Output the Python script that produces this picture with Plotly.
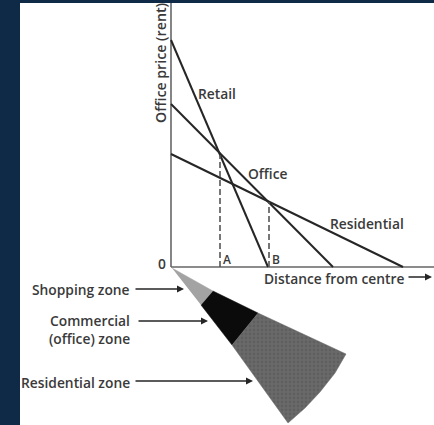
import plotly.graph_objects as go

# Rent curves: distance from centre vs office price (rent), in chart units
retail_x = [0, 97]
retail_y = [227, 0]
office_x = [0, 162]
office_y = [163, 0]
residential_x = [0, 232]
residential_y = [113, 0]
# Dashed drop lines at boundaries A and B
drop_a_x = [49, 49]
drop_a_y = [0, 112]
drop_b_x = [98, 98]
drop_b_y = [0, 65]
# Axis lines
axis_v_x = [0, 0]
axis_v_y = [0, 264]
axis_h_x = [0, 263]
axis_h_y = [0, 0]
# Zone wedge outlines below the axis
shopping_x = [1, 42, 30]
shopping_y = [-1, -24, -38]
commercial_x = [42, 87, 61, 30]
commercial_y = [-24, -46, -78, -38]
residential_zone_x = [87, 175, 164, 149, 134, 117, 61]
residential_zone_y = [-46, -87, -106, -125, -141, -156, -78]

labels = ["Retail", "Office", "Residential", "A", "B", "0"]

NAVY = "#0f2a47"
INK = "#262626"
TEXT = "#3a3a3a"
FONT = "Open Sans"
SIZE = 13.8

fig = go.Figure()


def zone(x, y, color, **kw):
    fig.add_trace(go.Scatter(x=x, y=y, mode="lines", fill="toself", fillcolor=color,
                             line=dict(color=color, width=0.5), hoverinfo="skip", **kw))


zone(shopping_x, shopping_y, "#a3a3a3")
zone(commercial_x, commercial_y, "#0b0b0b")
zone(residential_zone_x, residential_zone_y, "#666666",
     fillpattern=dict(shape=".", bgcolor="#6a6a6a", fgcolor="#545454", size=4, solidity=0.4))

for x, y in [(axis_v_x, axis_v_y), (axis_h_x, axis_h_y)]:
    fig.add_trace(go.Scatter(x=x, y=y, mode="lines", line=dict(color="#666666", width=1.6), hoverinfo="skip"))
for x, y in [(retail_x, retail_y), (office_x, office_y), (residential_x, residential_y)]:
    fig.add_trace(go.Scatter(x=x, y=y, mode="lines", line=dict(color=INK, width=2), hoverinfo="skip"))
for x, y in [(drop_a_x, drop_a_y), (drop_b_x, drop_b_y)]:
    fig.add_trace(go.Scatter(x=x, y=y, mode="lines", line=dict(color="#555555", width=1.6, dash="6px,3px"), hoverinfo="skip"))


def note(x, y, text, anchor="center", size=SIZE, **kw):
    fig.add_annotation(x=x, y=y, text=text, showarrow=False, xanchor=anchor, yanchor="middle",
                       borderpad=0, borderwidth=0,
                       font=dict(family=FONT, size=size, color=TEXT, weight=600), **kw)


def arrow(x0, x1, y):
    fig.add_annotation(x=x1, y=y, ax=x0, ay=y, axref="x", ayref="y", xref="x", yref="y", text="",
                       showarrow=True, arrowhead=2, arrowsize=1, arrowwidth=1.4, arrowcolor=INK)


note(-11, 204, "Office price (rent)", textangle=-90, size=14.2)
note(27, 174, labels[0], "left")
note(77, 94, labels[1], "left")
note(159, 44, labels[2], "left")
note(52, 7.5, labels[3], "left", size=12)
note(101, 7.5, labels[4], "left", size=12)
note(-9, 4, labels[5], "center")
note(93, -11.5, "Distance from centre", "left")
note(-41, -22, "Shopping zone", "right")
note(-41, -53, "Commercial", "right")
note(-41, -71, "(office) zone", "right")
note(-41, -115, "Residential zone", "right")
arrow(236, 261, -10)
arrow(-37, 13, -22)
arrow(-34, 37, -54)
arrow(-37, 82, -114)

fig.add_shape(type="rect", xref="paper", yref="paper", x0=20 / 434, x1=1, y0=0, y1=422 / 425,
              fillcolor="white", line_width=0, layer="below")

fig.update_layout(width=434, height=425, margin=dict(l=0, r=0, t=0, b=0), showlegend=False,
                  paper_bgcolor=NAVY, plot_bgcolor="rgba(0,0,0,0)",
                  xaxis=dict(range=[-171, 263], visible=False),
                  yaxis=dict(range=[-158, 267], visible=False))
fig.write_html("out.html", config={"displayModeBar": False},
               post_script="document.body.style.margin='0';")
